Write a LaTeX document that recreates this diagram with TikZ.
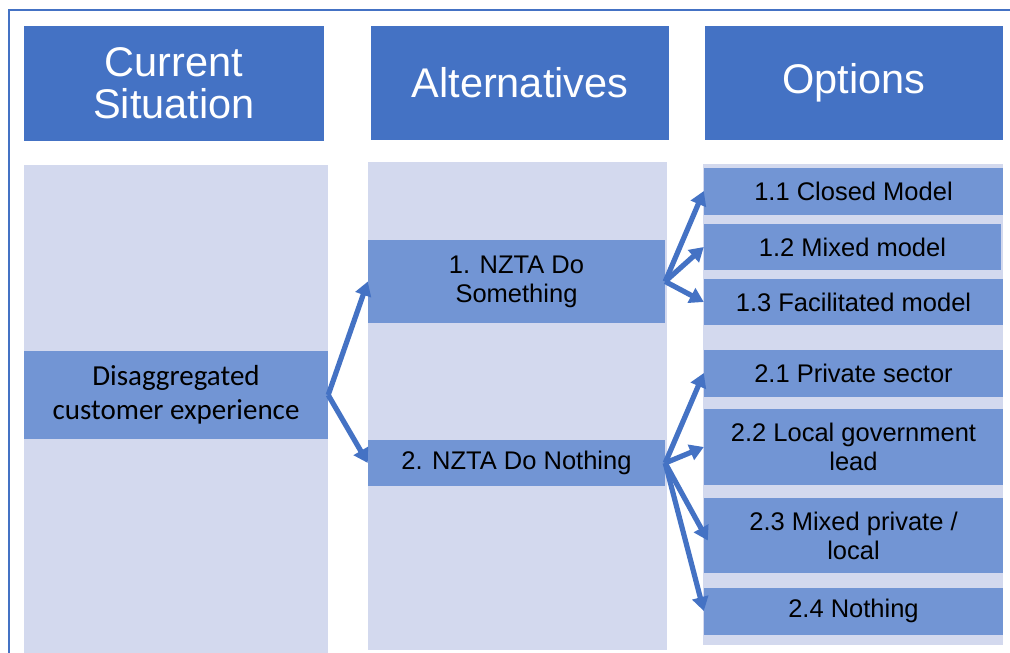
\documentclass[tikz,border=0pt]{standalone}
\usepackage{fontspec}
\setmainfont{Liberation Sans}
\newfontfamily\calfont{Carlito}
\usetikzlibrary{arrows.meta}
\definecolor{hdrblue}{HTML}{4472C4}
\definecolor{panelblue}{HTML}{D3D9EE}
\definecolor{boxblue}{HTML}{7295D4}
\tikzset{
  hdr/.style={fill=hdrblue, text=white, inner sep=0pt, align=center,
    font=\fontsize{41.5}{42}\selectfont},
  panel/.style={fill=panelblue, inner sep=0pt},
  optbox/.style={fill=boxblue, text=black, inner sep=0pt, align=center,
    font=\fontsize{25.5}{29}\selectfont},
  arr/.style={draw=hdrblue, line width=5.2pt,
    -{Triangle[length=14pt,width=16pt]}}
}
\begin{document}
\begin{tikzpicture}[x=1pt,y=-1pt]
\useasboundingbox (0,0) rectangle (1010,653);
\fill[white] (0,0) rectangle (1010,653);
\draw[hdrblue, line width=1.5pt] (9,653) -- (9,10) -- (1010,10);

% headers
\node[hdr, minimum width=300pt, minimum height=115pt] (h1) at (174,83.5) {Current\\Situation};
\node[hdr, minimum width=298pt, minimum height=114pt] (h2) at (520,83) {Alternatives};
\node[hdr, minimum width=298pt, minimum height=114pt] (h3) at (854,83) {Options};

% panels
\node[panel, minimum width=304pt, minimum height=488pt] (p1) at (176,409) {};
\node[panel, minimum width=299pt, minimum height=488pt] (p2) at (517.5,406) {};
\node[panel, minimum width=300pt, minimum height=481pt] (p3) at (853,404.5) {};

% boxes
\node[optbox, minimum width=304pt, minimum height=88pt,
  font=\calfont\fontsize{29}{34}\selectfont] (dis) at (176,395) {Disaggregated\\customer experience};
\node[optbox, minimum width=297pt, minimum height=83pt] (a1) at (516.5,281.5) {1. NZTA Do\\Something};
\node[optbox, minimum width=297pt, minimum height=46pt] (a2) at (516.5,463) {2. NZTA Do Nothing};

\node[optbox, minimum width=299pt, minimum height=47pt] (o11) at (853.5,191) {1.1 Closed Model};
\node[optbox, minimum width=297pt, minimum height=46pt] (o12) at (852.5,247) {1.2 Mixed model};
\node[optbox, minimum width=299pt, minimum height=46pt] (o13) at (853.5,302) {1.3 Facilitated model};

\node[optbox, minimum width=299pt, minimum height=47pt] (o21) at (853.5,373) {2.1 Private sector};
\node[optbox, minimum width=299pt, minimum height=76pt] (o22) at (853.5,447) {2.2 Local government\\lead};
\node[optbox, minimum width=299pt, minimum height=75pt] (o23) at (853.5,535.5) {2.3 Mixed private /\\local};
\node[optbox, minimum width=299pt, minimum height=47pt] (o24) at (853.5,611) {2.4 Nothing};

% arrows
\draw[arr] (dis.east) -- (a1.west);
\draw[arr] (dis.east) -- (a2.west);
\draw[arr] (a1.east) -- (o11.west);
\draw[arr] (a1.east) -- (o12.west);
\draw[arr] (a1.east) -- (o13.west);
\draw[arr] (a2.east) -- (o21.west);
\draw[arr] (a2.east) -- (o22.west);
\draw[arr] (a2.east) -- ([xshift=4pt,yshift=-5pt]o23.west);
\draw[arr] (a2.east) -- (o24.west);
\end{tikzpicture}
\end{document}
